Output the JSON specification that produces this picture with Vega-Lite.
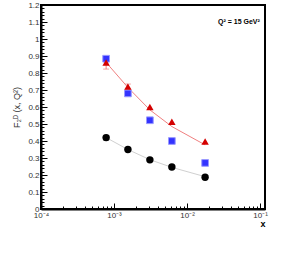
{
  "$schema": "https://vega.github.io/schema/vega-lite/v6.json",
  "width": 224,
  "height": 204,
  "autosize": {"type": "none"},
  "padding": {"left": 41, "top": 5, "right": 35, "bottom": 58},
  "background": "white",
  "config": {
    "view": {"stroke": "black", "strokeWidth": 2},
    "font": "Liberation Sans",
    "axis": {"grid": false, "domainColor": "black", "domainWidth": 2, "tickColor": "black", "tickWidth": 1, "labelColor": "#333", "labelFont": "Liberation Sans", "labelFontSize": 8}
  },
  "resolve": {"axis": {"x": "independent", "y": "independent"}},
  "datasets": {
    "pts": [
      {"x": 0.00078, "sq": 0.884, "tri": 0.862, "triLine": 0.862, "circ": 0.42, "circLine": 0.42},
      {"x": 0.00155, "sq": 0.68, "tri": 0.72, "triLine": 0.715, "circ": 0.35, "circLine": 0.35},
      {"x": 0.0031, "sq": 0.522, "tri": 0.60, "triLine": 0.583, "circ": 0.289, "circLine": 0.29},
      {"x": 0.0062, "sq": 0.40, "tri": 0.513, "triLine": 0.485, "circ": 0.247, "circLine": 0.245},
      {"x": 0.0177, "sq": 0.271, "tri": 0.397, "triLine": 0.377, "circ": 0.187, "circLine": 0.19}
    ],
    "errs": [
      {"x": 0.00078, "lo": 0.823, "hi": 0.878, "c": "tri"},
      {"x": 0.00155, "lo": 0.705, "hi": 0.735, "c": "tri"},
      {"x": 0.00078, "lo": 0.405, "hi": 0.433, "c": "circ"}
    ],
    "note": [{"x": 0.0514, "y": 1.10, "t": "Q² = 15 GeV²"}]
  },
  "data": {"name": "pts"},
  "layer": [
    {
      "mark": {"type": "line", "color": "#d0d0d0", "strokeWidth": 1},
      "encoding": {
        "x": {"field": "x", "type": "quantitative",
          "scale": {"type": "log", "domain": [0.0001, 0.117], "nice": false},
          "axis": {
            "orient": "bottom",
            "values": [0.0001, 0.001, 0.01, 0.1],
            "labelExpr": "datum.value < 0.0005 ? '10⁻⁴' : datum.value < 0.005 ? '10⁻³' : datum.value < 0.05 ? '10⁻²' : '10⁻¹'",
            "tickSize": -6,
            "labelPadding": 8,
            "labelFlush": false,
            "labelOverlap": false,
            "title": "x",
            "titleFontWeight": "bold",
            "titleFontSize": 9,
            "titleAnchor": "start",
            "titleX": 219,
            "titleY": 10,
            "titleColor": "black"
          }
        },
        "y": {"field": "circLine", "type": "quantitative",
          "scale": {"domain": [0, 1.2], "nice": false, "zero": false},
          "axis": {
            "orient": "left",
            "values": [0, 0.1, 0.2, 0.3, 0.4, 0.5, 0.6, 0.7, 0.8, 0.9, 1, 1.1, 1.2],
            "format": "~g",
            "tickSize": -6,
            "labelPadding": 8,
            "labelOverlap": false,
            "labelFlush": false,
            "title": "F₂ᴰ (x, Q²)",
            "titleFontWeight": "normal",
            "titleFontSize": 9,
            "titleColor": "#333",
            "titleX": -20
          }
        }
      }
    },
    {
      "mark": {"type": "line", "color": "#f08080", "strokeWidth": 1},
      "encoding": {
        "x": {"field": "x", "type": "quantitative",
          "axis": {"orient": "bottom", "values": [0.0002,0.0003,0.0004,0.0005,0.0006,0.0007,0.0008,0.0009,0.002,0.003,0.004,0.005,0.006,0.007,0.008,0.009,0.02,0.03,0.04,0.05,0.06,0.07,0.08,0.09], "tickSize": -3, "labels": false, "domain": false, "title": null}},
        "y": {"field": "triLine", "type": "quantitative",
          "axis": {"orient": "left", "values": [0.02,0.04,0.06,0.08,0.12,0.14,0.16,0.18,0.22,0.24,0.26,0.28,0.32,0.34,0.36,0.38,0.42,0.44,0.46,0.48,0.52,0.54,0.56,0.58,0.62,0.64,0.66,0.68,0.72,0.74,0.76,0.78,0.82,0.84,0.86,0.88,0.92,0.94,0.96,0.98,1.02,1.04,1.06,1.08,1.12,1.14,1.16,1.18], "tickSize": -3, "labels": false, "domain": false, "title": null}}
      }
    },
    {
      "data": {"name": "errs"},
      "mark": {"type": "rule", "strokeWidth": 1},
      "encoding": {
        "x": {"field": "x", "type": "quantitative", "axis": null},
        "y": {"field": "lo", "type": "quantitative", "axis": null},
        "y2": {"field": "hi"},
        "color": {"field": "c", "type": "nominal", "scale": {"domain": ["tri", "circ"], "range": ["#f08080", "#555"]}, "legend": null}
      }
    },
    {
      "data": {"name": "errs"},
      "mark": {"type": "tick", "orient": "horizontal", "size": 6, "thickness": 1},
      "encoding": {
        "x": {"field": "x", "type": "quantitative", "axis": null},
        "y": {"field": "lo", "type": "quantitative", "axis": null},
        "color": {"field": "c", "type": "nominal", "legend": null}
      }
    },
    {
      "data": {"name": "errs"},
      "mark": {"type": "tick", "orient": "horizontal", "size": 6, "thickness": 1},
      "encoding": {
        "x": {"field": "x", "type": "quantitative", "axis": null},
        "y": {"field": "hi", "type": "quantitative", "axis": null},
        "color": {"field": "c", "type": "nominal", "legend": null}
      }
    },
    {
      "mark": {"type": "point", "shape": "square", "filled": true, "color": "#3333ff", "size": 45, "stroke": "#9999ff", "strokeWidth": 1, "opacity": 1},
      "encoding": {"x": {"field": "x", "type": "quantitative", "axis": null}, "y": {"field": "sq", "type": "quantitative", "axis": null}}
    },
    {
      "mark": {"type": "point", "shape": "triangle-up", "filled": true, "color": "#d40000", "size": 55, "opacity": 1},
      "encoding": {"x": {"field": "x", "type": "quantitative", "axis": null}, "y": {"field": "tri", "type": "quantitative", "axis": null}}
    },
    {
      "mark": {"type": "point", "shape": "circle", "filled": true, "color": "black", "size": 55, "opacity": 1},
      "encoding": {"x": {"field": "x", "type": "quantitative", "axis": null}, "y": {"field": "circ", "type": "quantitative", "axis": null}}
    },
    {
      "data": {"name": "note"},
      "mark": {"type": "text", "fontSize": 7, "fontWeight": "bold", "color": "black", "font": "Liberation Sans"},
      "encoding": {"x": {"field": "x", "type": "quantitative", "axis": null}, "y": {"field": "y", "type": "quantitative", "axis": null}, "text": {"field": "t"}}
    }
  ]
}
